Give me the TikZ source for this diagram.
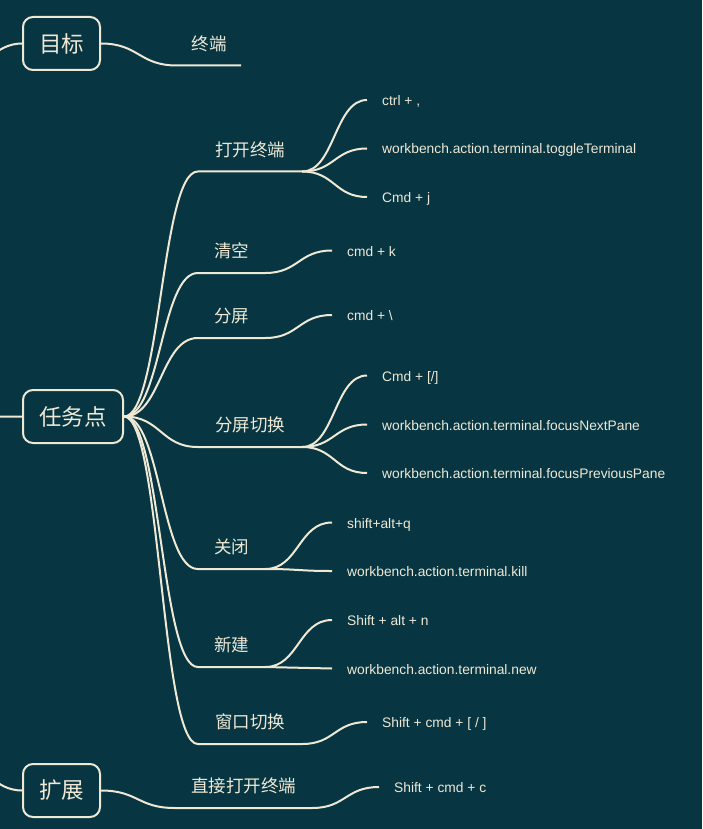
\documentclass[tikz,border=0pt]{standalone}
\usepackage{fontspec}
\setmainfont{Liberation Sans}
\newfontfamily\cjk{Noto Sans CJK SC}
\usetikzlibrary{calc}
\definecolor{bg}{HTML}{073642}
\definecolor{ln}{HTML}{EEE8D5}
\tikzset{
 sc/.style={to path={let \p1=(\tikztostart), \p2=(\tikztotarget) in .. controls ({0.5*\x1+0.5*\x2},\y1) and ({0.5*\x1+0.5*\x2},\y2) .. (\tikztotarget) \tikztonodes}},
 link/.style={draw=ln, line width=2pt, sc},
 topic/.style={draw=ln, line width=2pt, rounded corners=10pt, minimum height=53pt, inner sep=0pt, font=\cjk\fontsize{22.5}{26}\selectfont, text=ln},
 sub/.style={anchor=south, inner xsep=0pt, inner ysep=0pt, text height=14pt, text depth=15pt, font=\cjk\fontsize{17.5}{20}\selectfont, text=ln},
 leaf/.style={anchor=west, inner xsep=15pt, inner ysep=0pt, text height=14pt, text depth=3pt, font=\fontsize{13.8}{16}\selectfont, text=ln},
}
\begin{document}
\begin{tikzpicture}[x=1pt,y=-1pt]
\fill[bg] (0,0) rectangle (702,829);
\useasboundingbox (0,0) rectangle (702,829);
\clip (0,0) rectangle (702,829);
\coordinate (root) at (-184,417);
\node[topic, minimum width=77pt] (goal) at (61.5,43.5) {目标};
\node[topic, minimum width=100pt] (task) at (73,416.5) {任务点};
\node[topic, minimum width=77pt] (ext) at (61.5,790.5) {扩展};
\draw[link] (root) to (goal.west);
\draw[link] (root) to (task.west);
\draw[link] (root) to (ext.west);
% goal
\node[sub, minimum width=64pt] (g1) at (209,65.5) {终端};
\draw[link] (goal.east) to (g1.south west) -- (g1.south east);
% task subtopics
\node[sub, minimum width=104pt] (t1) at (250,171.5) {打开终端};
\node[sub, minimum width=67pt] (t2) at (231.5,273) {清空};
\node[sub, minimum width=67pt] (t3) at (231.5,338) {分屏};
\node[sub, minimum width=104pt] (t4) at (250,447) {分屏切换};
\node[sub, minimum width=67pt] (t5) at (231.5,569) {关闭};
\node[sub, minimum width=67pt] (t6) at (231.5,667) {新建};
\node[sub, minimum width=104pt] (t7) at (250,744) {窗口切换};
\foreach \t in {t1,t2,t3,t4,t5,t6,t7}{
  \draw[link] (task.east) to (\t.south west) -- (\t.south east);
}
% ext
\node[sub, minimum width=137pt] (e1) at (243.5,808) {直接打开终端};
\draw[link] (ext.east) to (e1.south west) -- (e1.south east);
% leaves
\node[leaf] (l11) at (367,100) {ctrl + ,};
\node[leaf] (l12) at (367,148.5) {workbench.action.terminal.toggleTerminal};
\node[leaf] (l13) at (367,197) {Cmd + j};
\node[leaf] (l21) at (332,250.5) {cmd + k};
\node[leaf] (l31) at (332,315) {cmd + \textbackslash};
\node[leaf] (l41) at (367,375.5) {Cmd + [/]};
\node[leaf] (l42) at (367,424.5) {workbench.action.terminal.focusNextPane};
\node[leaf] (l43) at (367,473) {workbench.action.terminal.focusPreviousPane};
\node[leaf] (l51) at (332,522.5) {shift+alt+q};
\node[leaf] (l52) at (332,571) {workbench.action.terminal.kill};
\node[leaf] (l61) at (332,620) {Shift + alt + n};
\node[leaf] (l62) at (332,668.5) {workbench.action.terminal.new};
\node[leaf] (l71) at (367,722) {Shift + cmd + [ / ]};
\node[leaf] (le1) at (379,787) {Shift + cmd + c};
\draw[link] (t1.south east) to (l11.west);
\draw[link] (t1.south east) to (l12.west);
\draw[link] (t1.south east) to (l13.west);
\draw[link] (t2.south east) to (l21.west);
\draw[link] (t3.south east) to (l31.west);
\draw[link] (t4.south east) to (l41.west);
\draw[link] (t4.south east) to (l42.west);
\draw[link] (t4.south east) to (l43.west);
\draw[link] (t5.south east) to (l51.west);
\draw[link] (t5.south east) to (l52.west);
\draw[link] (t6.south east) to (l61.west);
\draw[link] (t6.south east) to (l62.west);
\draw[link] (t7.south east) to (l71.west);
\draw[link] (e1.south east) to (le1.west);
\end{tikzpicture}
\end{document}
